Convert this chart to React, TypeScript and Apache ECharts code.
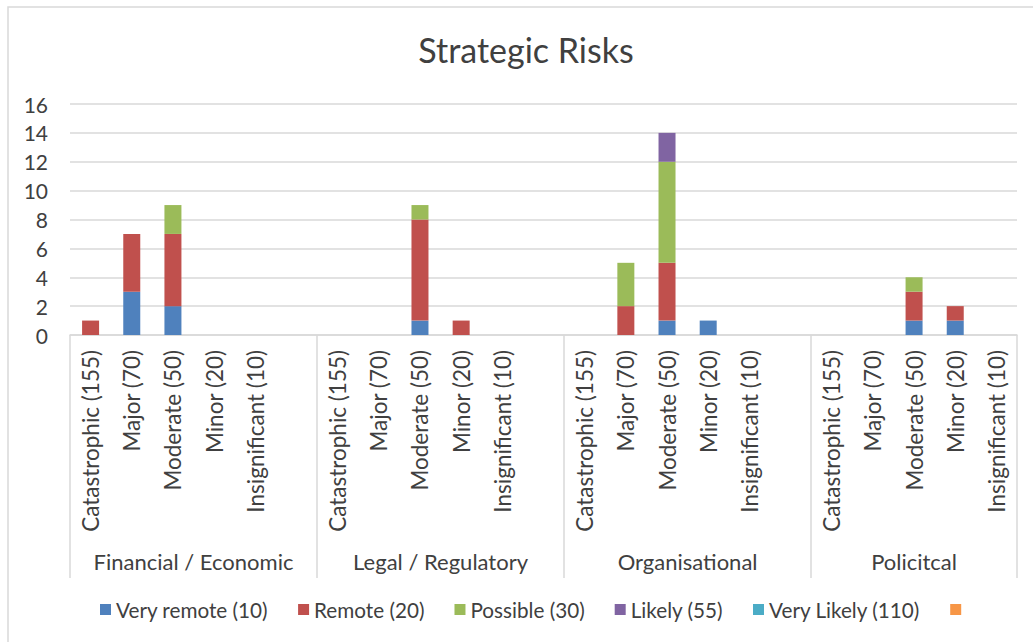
import React, { useEffect, useRef } from "react";
import * as echarts from "echarts";

const title = "Strategic Risks";
const impactLabels = ["Catastrophic (155)", "Major (70)", "Moderate (50)", "Minor (20)", "Insignificant (10)"];
const groups = ["Financial / Economic", "Legal / Regulatory", "Organisational", "Policitcal"];
// each group has the 5 impact categories; the first three are followed by a blank slot
const groupSizes = [6, 6, 6, 5];

const seriesNames = ["Very remote (10)", "Remote (20)", "Possible (30)", "Likely (55)", "Very Likely (110)", " "];
const seriesColors = ["#4f81bd", "#c0504d", "#9bbb59", "#8064a2", "#4bacc6", "#f79646"];

const veryRemote = [0, 3, 2, 0, 0, 0, 0, 0, 1, 0, 0, 0, 0, 0, 1, 1, 0, 0, 0, 0, 1, 1, 0];
const remote = [1, 4, 5, 0, 0, 0, 0, 0, 7, 1, 0, 0, 0, 2, 4, 0, 0, 0, 0, 0, 2, 1, 0];
const possible = [0, 0, 2, 0, 0, 0, 0, 0, 1, 0, 0, 0, 0, 3, 7, 0, 0, 0, 0, 0, 1, 0, 0];
const likely = [0, 0, 0, 0, 0, 0, 0, 0, 0, 0, 0, 0, 0, 0, 2, 0, 0, 0, 0, 0, 0, 0, 0];
const veryLikely = [0, 0, 0, 0, 0, 0, 0, 0, 0, 0, 0, 0, 0, 0, 0, 0, 0, 0, 0, 0, 0, 0, 0];
const unnamed = [0, 0, 0, 0, 0, 0, 0, 0, 0, 0, 0, 0, 0, 0, 0, 0, 0, 0, 0, 0, 0, 0, 0];
const seriesValues = [veryRemote, remote, possible, likely, veryLikely, unnamed];

const yTicks = { min: 0, max: 16, interval: 2 };

const FONT = "Lato";
const TEXT = "#404040";
const GRID = "#d9d9d9";

export default function App() {
  const ref = useRef<HTMLDivElement>(null);
  useEffect(() => {
    if (!ref.current) return;
    const chart = echarts.init(ref.current, undefined, { renderer: "svg" });

    const categories: string[] = [];
    const boundaries: number[] = [0];
    const centers: number[] = [];
    let acc = 0;
    groupSizes.forEach((n) => {
      for (let i = 0; i < n; i++) categories.push(i < impactLabels.length ? impactLabels[i] : "");
      centers.push(acc + n / 2);
      acc += n;
      boundaries.push(acc);
    });
    const total = acc;

    chart.setOption({
      animation: false,
      backgroundColor: "#ffffff",
      textStyle: { fontFamily: FONT },
      title: {
        text: title,
        left: 521,
        textAlign: "center",
        top: 27,
        textStyle: { fontFamily: FONT, fontSize: 34, fontWeight: "normal", color: TEXT },
      },
      legend: {
        data: seriesNames,
        left: 95,
        top: 594,
        icon: "rect",
        itemWidth: 11,
        itemHeight: 11,
        itemGap: 30,
        textStyle: { fontFamily: FONT, fontSize: 20.7, color: TEXT },
      },
      grid: { left: 70, right: 16, top: 104, bottom: 307, containLabel: false },
      xAxis: [
        {
          type: "category",
          data: categories,
          axisLine: { lineStyle: { color: GRID, width: 1.5 } },
          axisTick: { show: false },
          axisLabel: {
            interval: 0,
            rotate: 90,
            margin: 15,
            fontFamily: FONT,
            fontSize: 22.5,
            color: TEXT,
          },
        },
        {
          type: "value",
          min: 0,
          max: total,
          position: "bottom",
          axisLine: { show: false },
          splitLine: { show: false },
          axisTick: {
            show: true,
            customValues: boundaries,
            length: 243,
            lineStyle: { color: GRID, width: 1.5 },
          },
          axisLabel: {
            customValues: centers,
            margin: 215,
            fontFamily: FONT,
            fontSize: 22,
            color: TEXT,
            formatter: (v: number) => {
              const i = centers.indexOf(v);
              return i >= 0 ? groups[i] : "";
            },
          },
        },
      ],
      yAxis: {
        type: "value",
        min: yTicks.min,
        max: yTicks.max,
        interval: yTicks.interval,
        axisLine: { show: false },
        axisTick: { show: false },
        splitLine: { lineStyle: { color: GRID, width: 1.5 } },
        axisLabel: { margin: 22, fontFamily: FONT, fontSize: 21, color: TEXT },
      },
      graphic: [
        {
          type: "rect",
          shape: { x: 8, y: 7, width: 1200, height: 800 },
          style: { fill: "none", stroke: GRID, lineWidth: 1.5 },
          silent: true,
        },
      ],
      series: seriesNames.map((name, i) => ({
        name,
        type: "bar",
        stack: "total",
        xAxisIndex: 0,
        barWidth: 17,
        itemStyle: { color: seriesColors[i] },
        data: seriesValues[i],
      })),
    });
    return () => chart.dispose();
  }, []);
  return (
    <div
      ref={ref}
      style={{ position: "fixed", left: 0, top: 0, width: 1033, height: 642, background: "#fff" }}
    />
  );
}
